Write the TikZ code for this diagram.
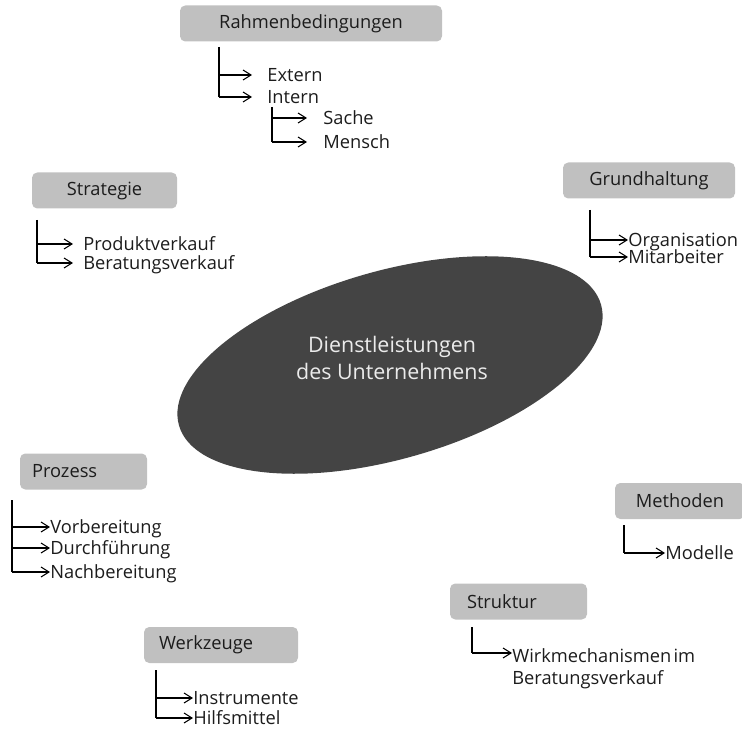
\documentclass[tikz,border=0pt]{standalone}
\usepackage{fontspec}
\setmainfont{Open Sans}
\usetikzlibrary{arrows.meta, positioning}
\definecolor{boxgray}{RGB}{192,192,192}
\definecolor{coregray}{RGB}{68,68,68}
\definecolor{inkgray}{RGB}{28,28,28}

\begin{document}
\begin{tikzpicture}[font=\fontsize{10.4}{12.5}\selectfont,
  head/.style={fill=boxgray, rounded corners=3pt, minimum height=7.2mm, inner sep=0, text=inkgray},
  item/.style={anchor=west, inner sep=0, text height=1.33ex, text depth=0pt, text=inkgray},
  core/.style={align=center, text=white!92!black, font=\fontsize{12.2}{15.4}\selectfont},
  stem/.style={line width=1.2pt},
  arr/.style={-{Straight Barb[length=1.6mm, width=2mm]}, line width=0.6pt}]
\useasboundingbox (0,0) rectangle (14.84,14.6);
% centre
\fill[coregray, rotate around={16:(7.8,7.3)}] (7.8,7.3) ellipse (4.39 and 1.88);
\node[core] (dl) at (7.84,7.44) {Dienstleistungen\\des Unternehmens};
% Rahmenbedingungen
\node[head, minimum width=52.4mm] (rb) at (6.22,14.13) {Rahmenbedingungen};
\coordinate (rbT) at (4.38,13.66);
\node[item] (rbE) at (5.34,13.1)  {Extern};
\node[item] (rbI) at (5.34,12.66) {Intern};
\draw[stem] (rbT) -- (rbT |- rbI.west);
\foreach \n in {rbE, rbI} \draw[arr, shorten >=3mm] (rbT |- \n.west) -- (\n.west);
\coordinate (riT) at (5.44,12.46);
\node[item] (riS) at (6.46,12.24) {Sache};
\node[item] (riM) at (6.46,11.76) {Mensch};
\draw[stem] (riT) -- (riT |- riM.west);
\foreach \n in {riS, riM} \draw[arr, shorten >=3.2mm] (riT |- \n.west) -- (\n.west);
% Strategie
\node[head, minimum width=29mm] (st) at (2.09,10.79) {Strategie};
\coordinate (stT) at (0.74,10.2);
\node[item] (stP) at (1.66,9.72) {Produktverkauf};
\node[item] (stB) at (1.66,9.34) {Beratungsverkauf};
\draw[stem] (stT) -- (stT |- stB.west);
\foreach \n in {stP, stB} \draw[arr, shorten >=2mm] (stT |- \n.west) -- (\n.west);
% Grundhaltung
\node[head, minimum width=34.4mm] (gh) at (12.98,10.99) {Grundhaltung};
\coordinate (ghT) at (11.8,10.4);
\node[item] (ghO) at (12.56,9.8)  {Organisation};
\node[item] (ghM) at (12.56,9.46) {Mitarbeiter};
\draw[stem] (ghT) -- (ghT |- ghM.west);
\foreach \n in {ghO, ghM} \draw[arr] (ghT |- \n.west) -- (\n.west);
% Prozess
\node[head, align=left, text width=20.6mm, inner xsep=2.4mm] (pz) at (1.67,5.17) {Prozess};
\coordinate (pzT) at (0.24,4.6);
\node[item] (pzV) at (1.0,4.06) {Vorbereitung};
\node[item] (pzD) at (1.0,3.64) {Durchführung};
\node[item] (pzN) at (1.0,3.16) {Nachbereitung};
\draw[stem] (pzT) -- (pzT |- pzN.west);
\foreach \n in {pzV, pzD, pzN} \draw[arr] (pzT |- \n.west) -- (\n.west);
% Methoden
\node[head, minimum width=26mm] (md) at (13.6,4.58) {Methoden};
\coordinate (mdT) at (12.48,4.1);
\node[item] (mdM) at (13.3,3.54) {Modelle};
\draw[stem] (mdT) -- (mdT |- mdM.west);
\draw[arr] (mdT |- mdM.west) -- (mdM.west);
% Struktur
\node[head, align=left, text width=20.6mm, inner xsep=3.4mm] (sk) at (10.37,2.57) {Struktur};
\coordinate (skT) at (9.44,2.06);
\coordinate (skB) at (9.44,1.54);
\node[anchor=north west, inner sep=0, align=left, text=inkgray] (skW) at (10.24,1.64)
  {Wirkmechanismen\hspace{0.12em}im\\Beratungsverkauf};
\draw[stem] (skT) -- (skB);
\draw[arr] (skB) -- (skB -| skW.west);
% Werkzeuge
\node[head, align=left, text width=24.8mm, inner xsep=3mm] (wz) at (4.42,1.7) {Werkzeuge};
\coordinate (wzT) at (3.12,1.2);
\node[item] (wzI) at (3.86,0.64) {Instrumente};
\node[item] (wzH) at (3.86,0.24) {Hilfsmittel};
\draw[stem] (wzT) -- (wzT |- wzH.west);
\foreach \n in {wzI, wzH} \draw[arr] (wzT |- \n.west) -- (\n.west);
\end{tikzpicture}
\end{document}
